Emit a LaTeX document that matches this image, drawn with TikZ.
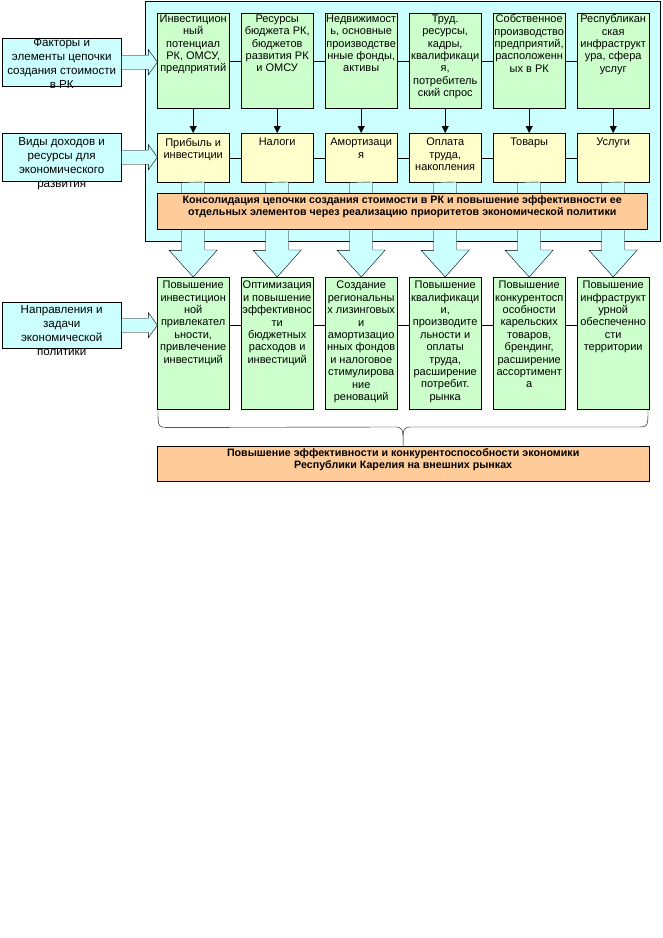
\documentclass[tikz,border=0pt]{standalone}
\usepackage{fontspec}
\setmainfont{Liberation Sans}
\usetikzlibrary{arrows.meta}
\definecolor{boxcyan}{HTML}{CCFFFF}
\definecolor{boxgreen}{HTML}{CCFFCC}
\definecolor{boxyellow}{HTML}{FFFFCC}
\definecolor{boxorange}{HTML}{FFCC99}
\tikzset{
  box/.style={draw, inner sep=0pt, anchor=north west, minimum width=72pt},
  factorbox/.style={box, fill=boxgreen, minimum height=95pt},
  incomebox/.style={box, fill=boxyellow, minimum height=49pt},
  taskbox/.style={box, fill=boxgreen, minimum height=132pt},
  sidebox/.style={draw, fill=boxcyan, inner sep=0pt, anchor=north west, minimum width=119pt},
  goalbox/.style={draw, fill=boxorange, inner sep=0pt, anchor=north west},
  boxtext/.style={anchor=north, align=center, inner sep=0pt, font=\fontsize{11}{12.4}\selectfont},
  sidetext/.style={anchor=north, align=center, inner sep=0pt, font=\fontsize{11.6}{14}\selectfont},
  goaltext/.style={anchor=north, align=center, inner sep=0pt, font=\fontsize{10.7}{11.5}\selectfont\bfseries},
  fatarrow/.style={draw, fill=boxcyan},
  smallarrow/.style={-{Triangle[width=7pt,length=7pt]}}
}
\begin{document}
\begin{tikzpicture}[x=1pt,y=-1pt]
\useasboundingbox (0,0) rectangle (662,938);
\fill[white] (0,0) rectangle (662,938);
% frame of the value chain
\node[draw, fill=boxcyan, inner sep=0pt, anchor=north west, minimum width=515pt, minimum height=240pt] (chain) at (145,1) {};
% factors
\foreach \i/\txt in {1/{Инвестицион\\ный\\потенциал\\РК, ОМСУ,\\предприятий},
  2/{Ресурсы\\бюджета РК,\\бюджетов\\развития РК\\и ОМСУ},
  3/{Недвижимост\\ь, основные\\производстве\\нные фонды,\\активы},
  4/{Труд.\\ресурсы,\\кадры,\\квалификаци\\я,\\потребитель\\ский спрос},
  5/{Собственное\\производство\\предприятий,\\расположенн\\ых в РК},
  6/{Республикан\\ская\\инфраструкт\\ура, сфера\\услуг}}
{
  \node[factorbox] (fac\i) at ({157+84*(\i-1)},13) {};
  \node[boxtext] at ([yshift=-1.5pt]fac\i.north) {\txt};
}
% incomes
\foreach \i/\txt in {1/{Прибыль и\\инвестиции}, 2/{Налоги}, 3/{Амортизаци\\я},
  4/{Оплата\\труда,\\накопления}, 5/{Товары}, 6/{Услуги}}
{
  \node[incomebox] (inc\i) at ({157+84*(\i-1)},133) {};
  \node[boxtext] at ([yshift=-5pt]inc\i.north) {\txt};
}
% tasks
\foreach \i/\txt in {1/{Повышение\\инвестицион\\ной\\привлекател\\ьности,\\привлечение\\инвестиций},
  2/{Оптимизация\\и повышение\\эффективнос\\ти\\бюджетных\\расходов и\\инвестиций},
  3/{Создание\\региональны\\х лизинговых\\и\\амортизацио\\нных фондов\\и налоговое\\стимулирова\\ние\\реноваций},
  4/{Повышение\\квалификаци\\и,\\производите\\льности и\\оплаты\\труда,\\расширение\\потребит.\\рынка},
  5/{Повышение\\конкурентосп\\особности\\карельских\\товаров,\\брендинг,\\расширение\\ассортимент\\а},
  6/{Повышение\\инфраструкт\\урной\\обеспеченно\\сти\\территории}}
{
  \node[taskbox] (task\i) at ({157+84*(\i-1)},277) {};
  \node[boxtext] at ([yshift=-4pt]task\i.north) {\txt};
}
% links inside rows
\foreach \i [evaluate=\i as \j using int(\i+1)] in {1,...,5}
{
  \draw (fac\i.east) -- (fac\j.west);
  \draw (inc\i.east) -- (inc\j.west);
  \draw ([yshift=18pt]task\i.east) -- ([yshift=18pt]task\j.west);
}
\foreach \i in {1,...,6}
  \draw[smallarrow] (fac\i.south) -- (inc\i.north);
% wide arrows down to the tasks
\foreach \i in {1,...,6}
  \draw[fatarrow] ([xshift=-11.5pt]inc\i.south) -- ++(0,68) -- ++(-12.5,0) -- (task\i.north)
    -- ++(24,-27) -- ++(-12.5,0) -- ++(0,-68) -- cycle;
% consolidation
\node[goalbox, minimum width=490pt, minimum height=36pt] (consol) at (157,193) {};
\node[goaltext] at ([yshift=-3pt]consol.north) {Консолидация цепочки создания стоимости в РК и повышение эффективности ее\\отдельных элементов через реализацию приоритетов экономической политики};
% side captions
\node[sidebox, minimum height=48pt] (side1) at (2,38) {};
\node[sidetext] at ([yshift=-0.5pt]side1.north) {Факторы и\\элементы цепочки\\создания стоимости\\в РК};
\node[sidebox, minimum height=48pt] (side2) at (2,133) {};
\node[sidetext] at ([yshift=-4pt]side2.north) {Виды доходов и\\ресурсы для\\экономического\\развития};
\node[sidebox, minimum height=46pt] (side3) at (2,302) {};
\node[sidetext] at ([yshift=-3pt]side3.north) {Направления и\\задачи\\экономической\\политики};
\foreach \i in {1,2,3}
  \draw[fatarrow] ([yshift=7pt]side\i.east) -- ++(27,0) -- ++(0,-5.5) -- ++(9,12.5)
    -- ++(-9,12.5) -- ++(0,-5.5) -- ++(-27,0) -- cycle;
% brace and final goal
\node[goalbox, minimum width=492pt, minimum height=35pt] (final) at (157,446) {};
\node[goaltext] at ([yshift=-2.5pt]final.north) {Повышение эффективности и конкурентоспособности экономики\\Республики Карелия на внешних рынках};
\draw (task1.south west) ++(1,1) .. controls ++(0,17) .. ++(12,17) -- (393,427)
  .. controls (403,427) .. (final.north) .. controls (403,427) .. (413,427) -- (636,427)
  .. controls (648,427) .. (648,410);
\end{tikzpicture}
\end{document}
